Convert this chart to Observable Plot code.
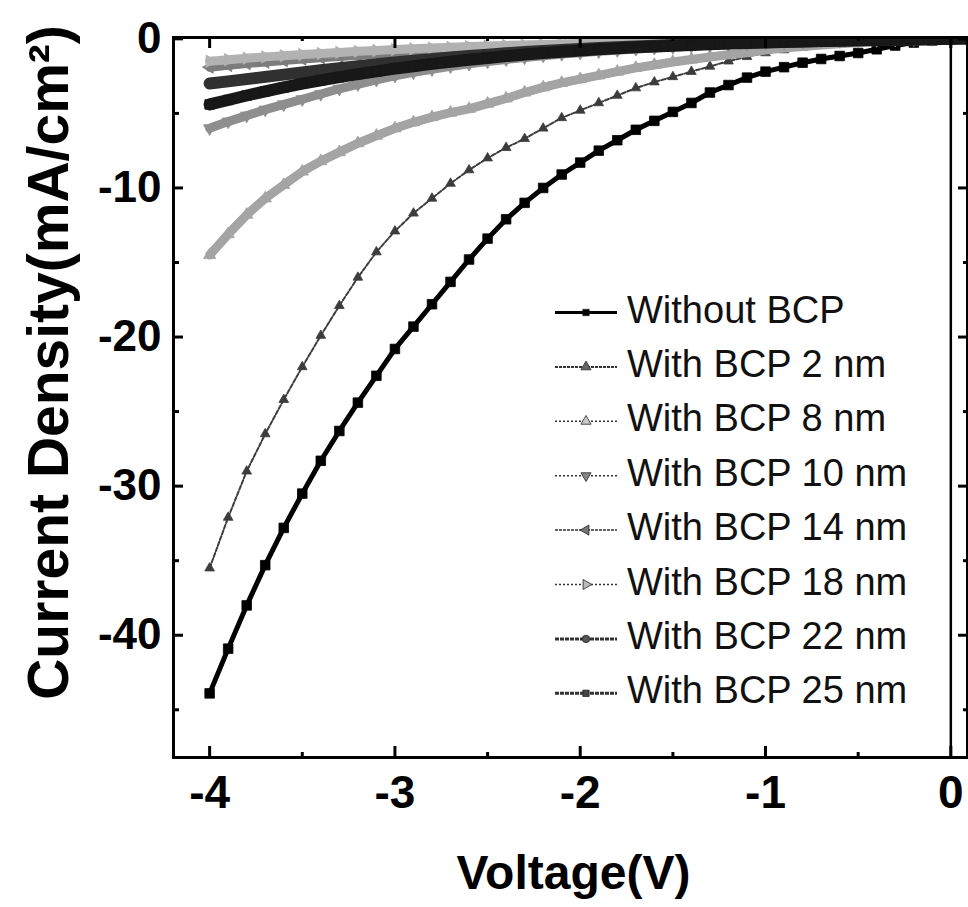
<!DOCTYPE html>
<html>
<head>
<meta charset="utf-8">
<script src="https://cdn.jsdelivr.net/npm/d3@7"></script>
<script src="https://cdn.jsdelivr.net/npm/@observablehq/plot@0.6"></script>
<style>
  html, body { margin: 0; padding: 0; background: #fff; }
  svg { display: block; }
</style>
</head>
<body>
<div id="chart"></div>
<script>
// ---------------- data ----------------
const voltage = [-4.0,-3.9,-3.8,-3.7,-3.6,-3.5,-3.4,-3.3,-3.2,-3.1,
                 -3.0,-2.9,-2.8,-2.7,-2.6,-2.5,-2.4,-2.3,-2.2,-2.1,
                 -2.0,-1.9,-1.8,-1.7,-1.6,-1.5,-1.4,-1.3,-1.2,-1.1,
                 -1.0,-0.9,-0.8,-0.7,-0.6,-0.5,-0.4,-0.3,-0.2,-0.1,
                  0.0, 0.1];

const withoutBCP = [-43.9,-40.9,-38.0,-35.3,-32.8,-30.5,-28.3,-26.3,-24.4,-22.6,
                    -20.8,-19.3,-17.8,-16.3,-14.8,-13.4,-12.1,-11.0,-10.0,-9.1,
                    -8.3,-7.5,-6.8,-6.1,-5.5,-4.9,-4.3,-3.6,-3.1,-2.6,
                    -2.2,-1.9,-1.6,-1.35,-1.15,-0.95,-0.7,-0.45,-0.25,-0.1,
                     0.02,0.1];
const bcp2nm = [-35.5,-32.1,-29.0,-26.5,-24.2,-22.0,-19.9,-17.9,-16.0,-14.3,
                -12.9,-11.7,-10.7,-9.7,-8.8,-8.0,-7.3,-6.7,-6.0,-5.3,
                -4.8,-4.3,-3.8,-3.3,-2.9,-2.55,-2.2,-1.85,-1.5,-1.2,
                -0.95,-0.75,-0.58,-0.44,-0.32,-0.23,-0.16,-0.1,-0.06,-0.02,
                 0.02,0.08];
const bcp8nm = [-14.5,-13.1,-11.8,-10.7,-9.8,-8.9,-8.2,-7.6,-7.0,-6.5,
                -6.0,-5.6,-5.25,-4.95,-4.7,-4.35,-4.0,-3.6,-3.25,-2.95,
                -2.7,-2.45,-2.2,-1.95,-1.75,-1.55,-1.38,-1.22,-1.07,-0.93,
                -0.75,-0.62,-0.51,-0.41,-0.33,-0.25,-0.18,-0.12,-0.07,-0.03,
                 0.02,0.06];
const bcp10nm = [-6.0,-5.55,-5.15,-4.75,-4.4,-4.05,-3.7,-3.35,-3.05,-2.75,
                 -2.48,-2.25,-2.05,-1.85,-1.68,-1.52,-1.38,-1.25,-1.13,-1.02,
                 -0.93,-0.84,-0.76,-0.68,-0.61,-0.55,-0.49,-0.43,-0.38,-0.33,
                 -0.29,-0.25,-0.21,-0.18,-0.15,-0.12,-0.09,-0.07,-0.04,-0.02,
                  0.01,0.04];
const bcp14nm = [-1.9,-1.78,-1.66,-1.56,-1.46,-1.36,-1.27,-1.18,-1.1,-1.02,
                 -0.95,-0.88,-0.82,-0.76,-0.7,-0.65,-0.6,-0.55,-0.51,-0.47,
                 -0.43,-0.4,-0.36,-0.33,-0.3,-0.27,-0.24,-0.22,-0.19,-0.17,
                 -0.15,-0.13,-0.11,-0.1,-0.08,-0.07,-0.05,-0.04,-0.03,-0.01,
                  0.0,0.02];
const bcp18nm = [-1.5,-1.4,-1.3,-1.21,-1.13,-1.05,-0.98,-0.91,-0.84,-0.78,
                 -0.72,-0.67,-0.62,-0.57,-0.52,-0.48,-0.44,-0.41,-0.38,-0.35,
                 -0.32,-0.29,-0.27,-0.24,-0.22,-0.2,-0.18,-0.16,-0.14,-0.13,
                 -0.11,-0.1,-0.09,-0.07,-0.06,-0.05,-0.04,-0.03,-0.02,-0.01,
                  0.0,0.02];
const bcp22nm = [-3.0,-2.85,-2.7,-2.55,-2.4,-2.25,-2.1,-1.97,-1.83,-1.71,
                 -1.58,-1.47,-1.36,-1.25,-1.15,-1.06,-0.97,-0.89,-0.82,-0.75,
                 -0.68,-0.62,-0.56,-0.51,-0.46,-0.41,-0.37,-0.33,-0.29,-0.26,
                 -0.23,-0.2,-0.17,-0.15,-0.12,-0.1,-0.08,-0.06,-0.04,-0.02,
                  0.0,0.03];
const bcp25nm = [-4.4,-4.1,-3.8,-3.52,-3.26,-3.01,-2.78,-2.57,-2.37,-2.18,
                 -2.0,-1.84,-1.68,-1.54,-1.4,-1.28,-1.16,-1.05,-0.95,-0.86,
                 -0.78,-0.7,-0.63,-0.57,-0.51,-0.46,-0.41,-0.36,-0.32,-0.28,
                 -0.24,-0.21,-0.18,-0.15,-0.12,-0.1,-0.08,-0.06,-0.04,-0.02,
                  0.0,0.03];

const seriesNames = ["Without BCP","With BCP 2 nm","With BCP 8 nm","With BCP 10 nm",
                     "With BCP 14 nm","With BCP 18 nm","With BCP 22 nm","With BCP 25 nm"];
const seriesValues = [withoutBCP, bcp2nm, bcp8nm, bcp10nm, bcp14nm, bcp18nm, bcp22nm, bcp25nm];

const xMajorTicks = [-4,-3,-2,-1,0];
const xMinorTicks = [-3.5,-2.5,-1.5,-0.5];
const yMajorTicks = [0,-10,-20,-30,-40];
const yMinorTicks = [-5,-15,-25,-35,-45];

const xLabel = "Voltage(V)";
const yLabel = "Current Density(mA/cm\u00B2)";

// ---------------- styles ----------------
const styles = [
  {color:"#000000", width:5,   dash:null,  symbol:"square",   rotate:0,   r:5.4, legendWidth:3,   mfill:"#000"},
  {color:"#3c3c3c", width:2,   dash:"4,2", symbol:"triangle", rotate:0,   r:3.6, legendWidth:2,   legendDash:"3,1", mfill:"#666"},
  {color:"#a4a4a4", width:9,   dash:null,  symbol:"triangle", rotate:0,   r:4.6, legendWidth:1.5, legendDash:"2,2", mfill:"#ccc"},
  {color:"#8e8e8e", width:9,   dash:null,  symbol:"triangle", rotate:180, r:4.6, legendWidth:1.5, legendDash:"2,2", mfill:"#888"},
  {color:"#7c7c7c", width:9,   dash:null,  symbol:"triangle", rotate:-90, r:4.6, legendWidth:1.5, legendDash:"3,1", mfill:"#777"},
  {color:"#b2b2b2", width:9,   dash:null,  symbol:"triangle", rotate:90,  r:4.6, legendWidth:1.5, legendDash:"2,2", mfill:"#bbb"},
  {color:"#303030", width:12,  dash:null,  symbol:"circle",   rotate:0,   r:5.0, legendWidth:3,   legendDash:"4,1", mfill:"#555"},
  {color:"#181818", width:12,  dash:null,  symbol:"square",   rotate:0,   r:5.4, legendWidth:3,   legendDash:"4,1", mfill:"#444"}
];

const rows = seriesNames.flatMap((name, i) =>
  voltage.map((v, j) => ({series: name, V: v, J: seriesValues[i][j]})));

// frame geometry
const W = 968, H = 907;
const mL = 173, mR = 1, mT = 37, mB = 150;
const xDom = [-4.195, 0.09];
const yDom = [-48.2, 0.09];
const pxX = (W - mL - mR) / (xDom[1] - xDom[0]);
const pxY = (H - mT - mB) / (yDom[1] - yDom[0]);

const marks = [];
seriesNames.forEach((name, i) => {
  const s = styles[i];
  const d = rows.filter(r => r.series === name);
  marks.push(Plot.line(d, {x:"V", y:"J", stroke:s.color, strokeWidth:s.width,
    strokeDasharray:s.dash, clip:true}));
  marks.push(Plot.dot(d, {x:"V", y:"J", symbol:s.symbol, r:s.r, rotate:s.rotate,
    fill:s.color, stroke:s.color, strokeWidth:0.8, clip:true}));
});

// zero line
marks.push(Plot.ruleX([0], {strokeWidth:2.5, stroke:"#000"}));

// inward ticks (bottom, top, left, right)
const tk = (px, per) => px / per;
marks.push(
  Plot.ruleX(xMajorTicks, {y1:yDom[0], y2:yDom[0] + tk(11, pxY), strokeWidth:3}),
  Plot.ruleX(xMinorTicks, {y1:yDom[0], y2:yDom[0] + tk(5, pxY), strokeWidth:3}),
  Plot.ruleX(xMajorTicks, {y1:yDom[1], y2:yDom[1] - tk(11, pxY), strokeWidth:3}),
  Plot.ruleX(xMinorTicks, {y1:yDom[1], y2:yDom[1] - tk(4, pxY), strokeWidth:3}),
  Plot.ruleY(yMajorTicks, {x1:xDom[0], x2:xDom[0] + tk(10, pxX), strokeWidth:3}),
  Plot.ruleY(yMinorTicks, {x1:xDom[0], x2:xDom[0] + tk(6, pxX), strokeWidth:3}),
  Plot.ruleY(yMajorTicks, {x1:xDom[1], x2:xDom[1] - tk(9, pxX), strokeWidth:3}),
  Plot.ruleY(yMinorTicks, {x1:xDom[1], x2:xDom[1] - tk(4, pxX), strokeWidth:3})
);

marks.push(Plot.frame({stroke:"#000", strokeWidth:3}));

// tick labels
marks.push(
  Plot.axisX(xMajorTicks, {anchor:"bottom", tickSize:0, tickPadding:18, fontSize:46,
    fontWeight:"bold", tickFormat:d => String(d), label:null}),
  Plot.axisY(yMajorTicks, {anchor:"left", tickSize:0, tickPadding:12, fontSize:44,
    fontWeight:"bold", tickFormat:d => String(d), label:null})
);

// axis titles
marks.push(
  Plot.text([xLabel], {frameAnchor:"bottom", dx:3, dy:131, lineAnchor:"bottom",
    textAnchor:"middle", fontSize:48, fontWeight:"bold", text:d => d}),
  Plot.text([yLabel], {frameAnchor:"left", rotate:-90, dx:-106, dy:-35, lineAnchor:"bottom",
    textAnchor:"middle", fontSize:57, fontWeight:"bold", text:d => d})
);

const chart = Plot.plot({
  width: W, height: H,
  marginLeft: mL, marginRight: mR, marginTop: mT, marginBottom: mB,
  x: {domain: xDom},
  y: {domain: yDom},
  style: {fontFamily: "'Liberation Sans', Arial, sans-serif", background: "#fff", color: "#000"},
  marks
});

// legend (drawn inside the plot svg)
const svg = d3.select(chart);
const lg = svg.append("g").attr("class", "legend").attr("text-anchor", "start");
const lx0 = 555, lx1 = 617, ltx = 627, ly0 = 312.5, lstep = 54.4;
seriesNames.forEach((name, i) => {
  const s = styles[i];
  const y = ly0 + i * lstep;
  lg.append("line").attr("x1", lx0).attr("x2", lx1).attr("y1", y).attr("y2", y)
    .attr("stroke", i === 0 ? "#000" : "#333")
    .attr("stroke-width", s.legendWidth)
    .attr("stroke-dasharray", s.legendDash || null);
  const sym = d3.symbol().type(
      s.symbol === "square" ? d3.symbolSquare :
      s.symbol === "circle" ? d3.symbolCircle : d3.symbolTriangle)
    .size(s.symbol === "square" ? 40 : 44);
  lg.append("path").attr("d", sym())
    .attr("transform", `translate(${(lx0 + lx1) / 2},${y}) rotate(${s.rotate})`)
    .attr("fill", s.mfill)
    .attr("stroke", "#222").attr("stroke-width", 0.8);
  lg.append("text").attr("x", ltx).attr("y", y + 10)
    .attr("text-anchor", "start")
    .attr("font-size", 38).attr("fill", "#111")
    .attr("font-family", "'Liberation Sans', Arial, sans-serif")
    .text(name);
});

document.getElementById("chart").appendChild(chart);
</script>
</body>
</html>
